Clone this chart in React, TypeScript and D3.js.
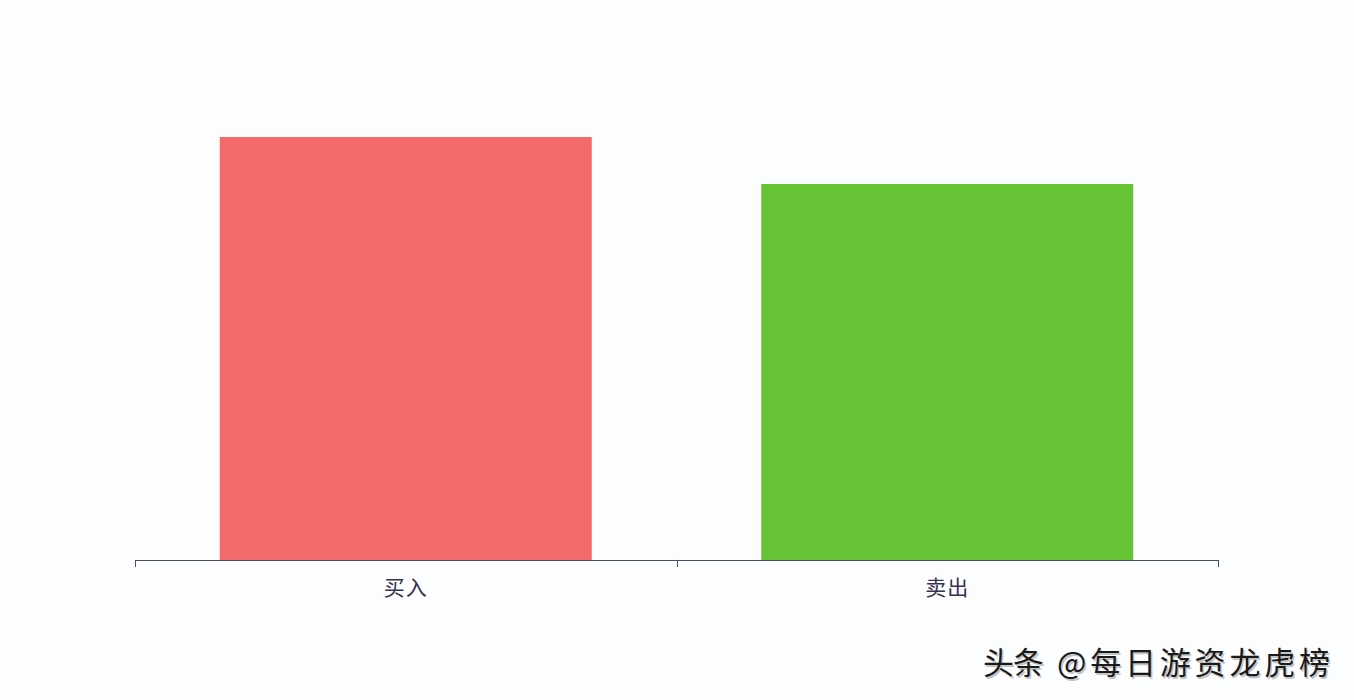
import { useEffect, useRef } from "react";
import * as d3 from "d3";

// categories and values (no y axis shown, read as relative heights)
const categories = ["买入", "卖出"];
const values = [9.0, 8.0];
const colors = ["#F26A69", "#66C434"];
const watermarkParts = ["头条", "@每日游资龙虎榜"];

const W = 1354;
const H = 700;

export default function App() {
  const ref = useRef<SVGSVGElement>(null);

  useEffect(() => {
    const svg = d3.select(ref.current);
    svg.selectAll("*").remove();

    const left = 135;
    const right = 1218;
    const baseY = 560;

    svg.append("rect").attr("width", W).attr("height", H).attr("fill", "#FCFDFE");

    // axis band (ticks at category boundaries)
    const xAxisScale = d3.scaleBand().domain(categories).range([left, right]).padding(0);
    // bars inside each band
    const xBar = d3
      .scaleBand()
      .domain(categories)
      .range([left, right])
      .paddingInner(0.313)
      .paddingOuter(0.1565);

    const y = d3.scaleLinear().domain([0, 10]).range([baseY, 90]);

    svg
      .append("g")
      .selectAll("rect")
      .data(categories)
      .join("rect")
      .attr("x", (d) => xBar(d))
      .attr("y", (d, i) => y(values[i]))
      .attr("width", xBar.bandwidth())
      .attr("height", (d, i) => y(0) - y(values[i]))
      .attr("fill", (d, i) => colors[i]);

    const axis = svg.append("g").attr("transform", `translate(0,${baseY})`);
    axis
      .append("path")
      .attr("d", `M${left},0.5H${right}`)
      .attr("stroke", "#4A4C68")
      .attr("fill", "none");
    const boundaries = [left, ...categories.map((c) => xAxisScale(c) + xAxisScale.bandwidth())];
    axis
      .selectAll("line.tick")
      .data(boundaries)
      .join("line")
      .attr("class", "tick")
      .attr("x1", (d) => Math.round(d) + 0.5)
      .attr("x2", (d) => Math.round(d) + 0.5)
      .attr("y1", 0)
      .attr("y2", 7)
      .attr("stroke", "#4A4C68");
    axis
      .selectAll("text")
      .data(categories)
      .join("text")
      .attr("x", (d) => xAxisScale(d) + xAxisScale.bandwidth() / 2)
      .attr("y", 35)
      .attr("text-anchor", "middle")
      .attr("font-family", "'Noto Sans CJK SC', sans-serif")
      .attr("font-size", 21)
      .attr("letter-spacing", 1)
      .attr("fill", "#3A3050")
      .text((d) => d);

    // watermark with a light shadow
    const wm = svg.append("g").attr("font-family", "'Noto Sans CJK SC', sans-serif").attr("font-size", 31);
    const pieces = [
      { text: watermarkParts[0], x: 983, len: 61 },
      { text: watermarkParts[1], x: 1057, len: 273 },
    ];
    pieces.forEach((p) => {
      wm.append("text")
        .attr("x", p.x + 1.5)
        .attr("y", 675.5)
        .attr("textLength", p.len)
        .attr("lengthAdjust", "spacing")
        .attr("fill", "#c4c4c4")
        .text(p.text);
      wm.append("text")
        .attr("x", p.x)
        .attr("y", 674)
        .attr("textLength", p.len)
        .attr("lengthAdjust", "spacing")
        .attr("fill", "#1a1a1a")
        .text(p.text);
    });
  }, []);

  return (
    <div style={{ position: "fixed", left: 0, top: 0 }}>
      <svg ref={ref} width={W} height={H}></svg>
    </div>
  );
}
